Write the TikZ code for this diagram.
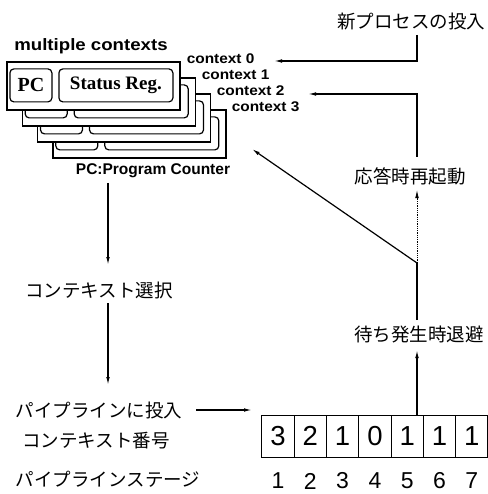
\documentclass[tikz,border=0pt]{standalone}
\usepackage{fontspec}
\usepackage{graphicx}
\setmainfont{Liberation Sans}
\newfontfamily\jp{Noto Sans CJK JP}
\newfontfamily\serifb{Liberation Serif}
\usetikzlibrary{arrows.meta}
\newcommand{\fs}[1]{\fontsize{#1}{#1}\selectfont}
\begin{document}
\begin{tikzpicture}[x=1pt,y=-1pt,line width=1.2pt,
  arr/.style={-{Latex[length=8pt,width=3.6pt]}},
  card/.style={draw,fill=white,line width=1.4pt,minimum width=173pt,minimum height=48pt,inner sep=0pt},
  reg/.style={draw,fill=white,rounded corners=4pt,line width=1.2pt,minimum height=33pt,inner sep=0pt},
  jtxt/.style={font=\jp\fs{18.5},inner sep=0pt},
  ctx/.style={font=\bfseries\fs{14},inner sep=0pt,anchor=east},
  cell/.style={draw,line width=1pt,minimum width=32.3pt,minimum height=42pt,inner sep=0pt,font=\fs{27.5}},
  stage/.style={font=\fs{23},inner sep=0pt}]
\useasboundingbox (0,0) rectangle (487,494);

% stacked context cards (back to front)
\foreach \i in {3,2,1,0}{
  \node[card] (card\i) at ({93.5+15.3*\i},{86+16*\i}) {};
  \node[reg,minimum width=42pt,anchor=north west] (pc\i) at ([xshift=3pt,yshift=-7pt]card\i.north west) {};
  \node[reg,minimum width=114pt,anchor=north west] (sr\i) at ([xshift=52pt,yshift=-7pt]card\i.north west) {};
}
\node[font=\serifb\bfseries\fs{20},inner sep=0pt] (pctxt) at (pc0) {PC};
\node[font=\serifb\bfseries\fs{19},inner sep=0pt] (srtxt) at (sr0) {Status Reg.};

\node[font=\bfseries\fs{16.5},inner sep=0pt] (mc) at (91,46) {\scalebox{1.13}[1]{multiple contexts}};
\node[ctx] (ctx0) at (255,59) {\scalebox{1.1}[1]{context 0}};
\node[ctx] (ctx1) at (270,75) {\scalebox{1.1}[1]{context 1}};
\node[ctx] (ctx2) at (285,91) {\scalebox{1.1}[1]{context 2}};
\node[ctx] (ctx3) at (300,107) {\scalebox{1.1}[1]{context 3}};
\node[font=\bfseries\fs{15.5},inner sep=0pt] (pcc) at (153,171) {PC:Program Counter};

% Japanese labels
\node[jtxt] (newp) at (411,22) {新プロセスの投入};
\node[jtxt] (ouc) at (410,176) {応答時再起動};
\node[jtxt] (mac) at (419,335) {待ち発生時退避};
\node[jtxt] (sel) at (99,290) {コンテキスト選択};
\node[jtxt] (inj) at (99,410) {パイプラインに投入};
\node[jtxt] (ctxn) at (96,441) {コンテキスト番号};
\node[jtxt] (stg) at (108,479) {パイプラインステージ};

% pipeline
\foreach \v [count=\k] in {3,2,1,0,1,1,1}{
  \node[cell] (p\k) at ({278+32.3*(\k-1)},436) {\v};
  \node[stage] (s\k) at ({278+32.3*(\k-1)},481) {\k};
}

% coordinates for connector ends
\coordinate (a1s) at (108,183);
\coordinate (a1e) at (108,265);
\coordinate (a2s) at (108,303);
\coordinate (a2e) at (108,385);
\coordinate (a3s) at (196,410);
\coordinate (a3e) at (252,410);
\coordinate (rx) at (417,0);
\coordinate (a4e) at (417,350);
\coordinate (mtop) at (417,320);
\coordinate (junc) at (417,263);
\coordinate (diage) at (252,149);
\coordinate (dote) at (417,190);
\coordinate (otop) at (417,157);
\coordinate (c2tip) at (308,94);
\coordinate (ntop) at (417,35);
\coordinate (c0tip) at (274,61);

\draw[arr] (a1s) -- (a1e);
\draw[arr] (a2s) -- (a2e);
\draw[arr] (a3s) -- (a3e);
\draw[arr] (p1.north -| rx) -- (a4e);
\draw (mtop) -- (junc);
\draw[arr] (junc) -- (diage);
\draw[arr,line width=0.8pt,densely dotted] (junc) -- (dote);
\draw[arr] (otop) |- (c2tip);
\draw[arr] (ntop) |- (c0tip);
\end{tikzpicture}
\end{document}
